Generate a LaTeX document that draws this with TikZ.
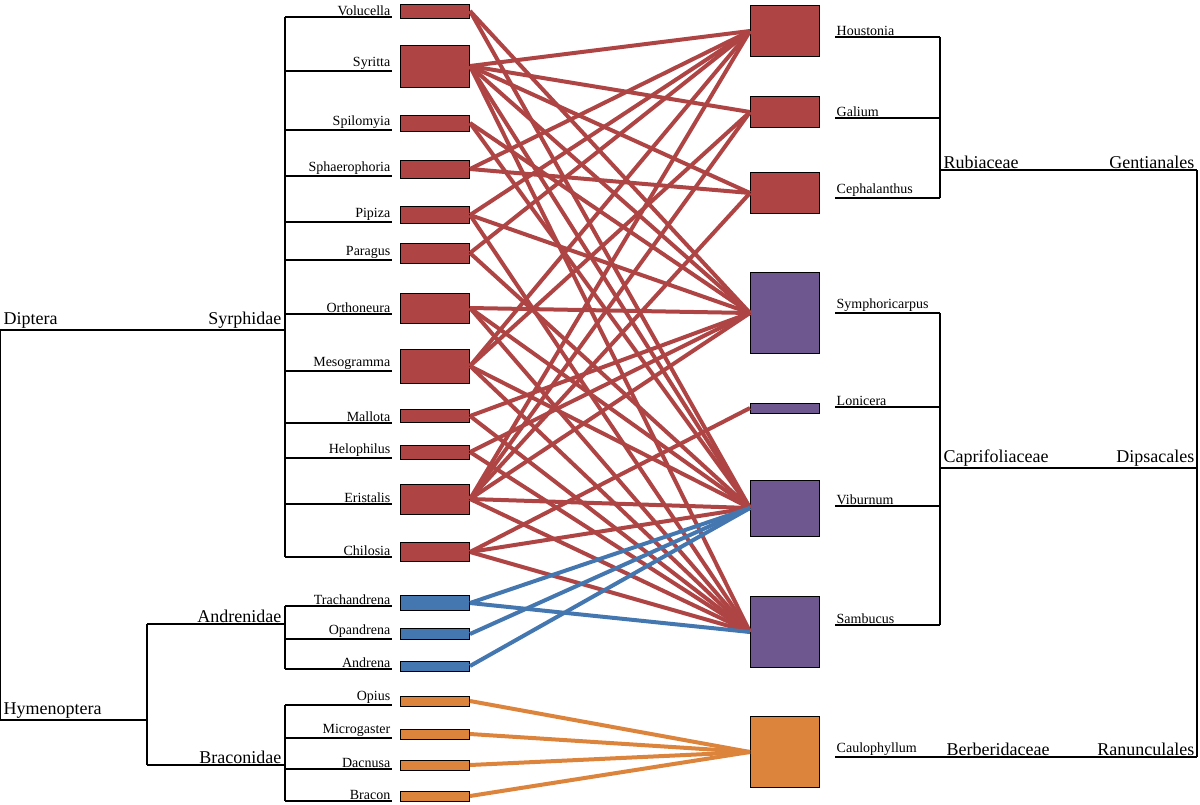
\documentclass[tikz,border=0pt]{standalone}
\usepackage{fontspec}
\setmainfont{Liberation Serif}
\definecolor{rd}{HTML}{AE4544}
\definecolor{bl}{HTML}{4477AF}
\definecolor{og}{HTML}{DD843C}
\definecolor{pu}{HTML}{6E578F}
\begin{document}
\begin{tikzpicture}[x=1pt,y=-1pt,
  tree/.style={black,line width=1.3pt},
  box/.style={draw=black,line width=1pt,minimum width=69pt,inner sep=0pt,anchor=center},
  leaf/.style={font=\fontsize{14}{15}\selectfont,inner sep=1.5pt},
  big/.style={font=\fontsize{18}{19}\selectfont,inner sep=1.5pt},
  lk/.style={line width=4pt,rd},
  lb/.style={line width=4pt,bl},
  lo/.style={line width=4pt,og}]
\useasboundingbox (0,0) rectangle (1200,804);
\foreach \n/\t/\y/\h/\l/\c in {vo/Volucella/11/14/17/rd, sy/Syritta/66/42/71/rd, sp/Spilomyia/123/16/130/rd, sh/Sphaerophoria/169/18/176/rd, pi/Pipiza/215/17/222/rd, pa/Paragus/253/20/260/rd, or/Orthoneura/308/30/314/rd, me/Mesogramma/366/34/371/rd, ma/Mallota/416/13/423/rd, he/Helophilus/452/14/458/rd, er/Eristalis/499/30/504/rd, ch/Chilosia/552/19/557/rd, tr/Trachandrena/603/15/606/bl, op/Opandrena/634/11/639/bl, an/Andrena/666/10/669/bl, oi/Opius/701/10/705/og, mi/Microgaster/734/10/738/og, da/Dacnusa/765/10/769/og, br/Bracon/796/10/801/og}{
  \node[box,fill=\c,minimum height=\h pt] (\n) at (435,\y) {};
  \coordinate (\n L) at (392,\l);
  \coordinate (\n R) at (285,\l);
  \draw[tree] (\n R) -- (\n L);
  \node[leaf,anchor=south east] (\n T) at (\n L) {\t};
}
\foreach \n/\t/\y/\h/\l/\c in {ho/Houstonia/31/51/37/rd, ga/Galium/112/31/118/rd, ce/Cephalanthus/193/41/198/rd, sm/Symphoricarpus/313/81/313/pu, lo/Lonicera/408/10/407/pu, vi/Viburnum/508/56/506/pu, sa/Sambucus/632/71/625/pu, ca/Caulophyllum/752/71/757/og}{
  \node[box,fill=\c,minimum height=\h pt] (\n) at (785,\y) {};
  \coordinate (\n L) at (835,\l);
  \coordinate (\n R) at (940,\l);
  \node[leaf,anchor=south west] (\n T) at (\n L) {\t};
}
\draw[tree] (hoL) -- (hoR) (gaL) -- (gaR) (ceL) -- (ceR);
\draw[tree] (smL) -- (smR) (loL) -- (loR) (viL) -- (viR) (saL) -- (saR);
\foreach \a/\b in {vo/sm, vo/vi, sy/ho, sy/ga, sy/ce, sy/vi, sy/sa, sy/sm, sp/sm, sp/vi, sh/ho, sh/ce, pi/ho, pi/sm, pi/sa, pa/ho, pa/vi, or/sm, or/vi, or/sa, me/ho, me/ga, me/vi, me/sa, ma/sm, ma/sa, he/sm, he/sa, er/ho, er/ga, er/ce, er/sm, er/vi, er/sa, ch/lo, ch/vi, ch/sa}
  \draw[lk] (\a.east) -- (\b.west);
\foreach \a/\b in {tr/vi, tr/sa, op/vi, an/vi}
  \draw[lb] (\a.east) -- (\b.west);
\foreach \a in {oi,mi,da,br}
  \draw[lo] (\a.east) -- (ca.west);
% left tree
\coordinate (s1) at (285,17); \coordinate (s2) at (285,557);
\draw[tree] (s1) -- (s2);
\coordinate (dip) at (0,330); \coordinate (dipe) at (285,330);
\draw[tree] (dip) -- (dipe);
\node[big,anchor=south west] (dipT) at (2,330) {Diptera};
\node[big,anchor=south east] (syT) at (283,330) {Syrphidae};
\coordinate (hym) at (0,720); \coordinate (hyme) at (147,720);
\draw[tree] (dip) -- (hym) -- (hyme);
\node[big,anchor=south west] (hymT) at (2,720) {Hymenoptera};
\coordinate (h1) at (147,624); \coordinate (h2) at (147,765);
\draw[tree] (h1) -- (h2);
\coordinate (a1) at (285,624); \coordinate (b1) at (285,765);
\draw[tree] (h1) -- (a1) (h2) -- (b1);
\node[big,anchor=south east] (anT) at (283,624) {Andrenidae};
\node[big,anchor=south east] (brT) at (283,765) {Braconidae};
\draw[tree] (trR) -- (anR) (oiR) -- (brR);
% right tree
\draw[tree] (hoR) -- (ceR) (smR) -- (saR);
\coordinate (ru) at (940,170); \coordinate (rue) at (1197,170);
\coordinate (cp) at (940,468); \coordinate (cpe) at (1197,468);
\coordinate (cae) at (1197,757);
\draw[tree] (ru) -- (rue) (cp) -- (cpe) (caL) -- (cae) (rue) -- (cae);
\node[big,anchor=south west] (ruT) at (942,170) {Rubiaceae};
\node[big,anchor=south east] (geT) at (1196,170) {Gentianales};
\node[big,anchor=south west] (cpT) at (942,468) {Caprifoliaceae};
\node[big,anchor=south east] (dsT) at (1196,468) {Dipsacales};
\node[big,anchor=south west] (beT) at (945,757) {Berberidaceae};
\node[big,anchor=south east] (raT) at (1196,757) {Ranunculales};
\end{tikzpicture}
\end{document}
